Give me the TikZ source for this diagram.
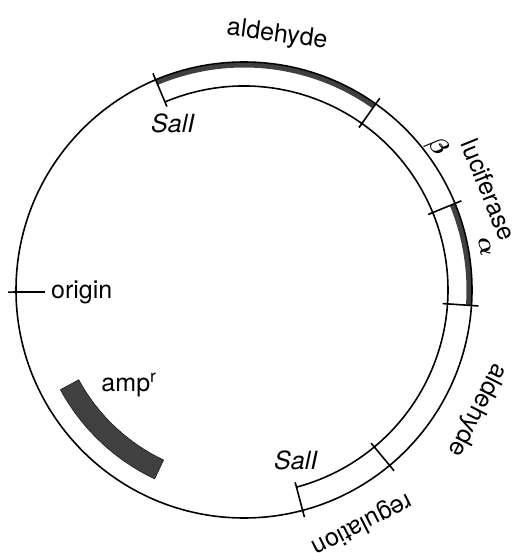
\documentclass[tikz,border=0pt]{standalone}
\usepackage{fontspec}
\setmainfont{TeX Gyre Heros}
\begin{document}
\begin{tikzpicture}[x=1pt,y=1pt,every node/.style={font=\fontsize{25}{30}\selectfont}]
  \tikzset{
    dna/.style={line width=1.6pt},
    gene/.style={line width=5pt, draw=black!75},
    cut/.style={line width=1.6pt},
    lbl/.style={inner sep=0pt},
    greek/.style={inner sep=0pt, font=\fontsize{25}{30}\selectfont\boldmath}
  }
  \useasboundingbox (-244,-263) rectangle (274,290);
  % genes on the plasmid
  \draw[gene] (112.8:225pt) arc[start angle=112.8, end angle=54.7, radius=225pt];
  \draw[gene] (22.3:225pt) arc[start angle=22.3, end angle=-3.9, radius=225pt];
  \draw[dna] (0,0) circle[radius=228pt];
  \draw[dna] (112.8:204pt) arc[start angle=112.8, end angle=-75.1, radius=204pt];
  \foreach \a in {112.8,54.7,22.3,-3.9,-50.3,-75.1}
    \draw[cut] (\a:199pt) -- (\a:235pt);
  % amp block
  \filldraw[fill=black!75, draw=black, thin]
    (208.5:188pt) arc[start angle=208.5, end angle=244.7, radius=188pt]
    -- (244.7:209pt) arc[start angle=244.7, end angle=208.5, radius=209pt] -- cycle;
  \node[lbl] (amp) at (-115,-95) {amp\textsuperscript{r}};
  % origin
  \coordinate (ori) at (180.5:236pt);
  \node[lbl, anchor=west, inner sep=6pt] (origin) at (-199,-2) {origin};
  \draw[cut] (ori) -- (origin.west);
  % labels
  \node[lbl, rotate=-7.4] (ald1) at (82.6:257pt) {aldehyde};
  \node[lbl] (sal1) at (-71,167) {\textit{SalI}};
  \node[greek, rotate=-53.5] (beta) at (193,143) {$\beta$};
  \node[lbl, rotate=-68] (luc) at (245,100) {luciferase};
  \node[greek, rotate=-80] (alpha) at (241,43) {$\alpha$};
  \node[lbl, rotate=-117] (ald2) at (233,-120) {aldehyde};
  \node[lbl, rotate=-153] (reg) at (118,-234) {regulation};
  \node[lbl] (sal2) at (52,-170) {\textit{SalI}};
\end{tikzpicture}
\end{document}
